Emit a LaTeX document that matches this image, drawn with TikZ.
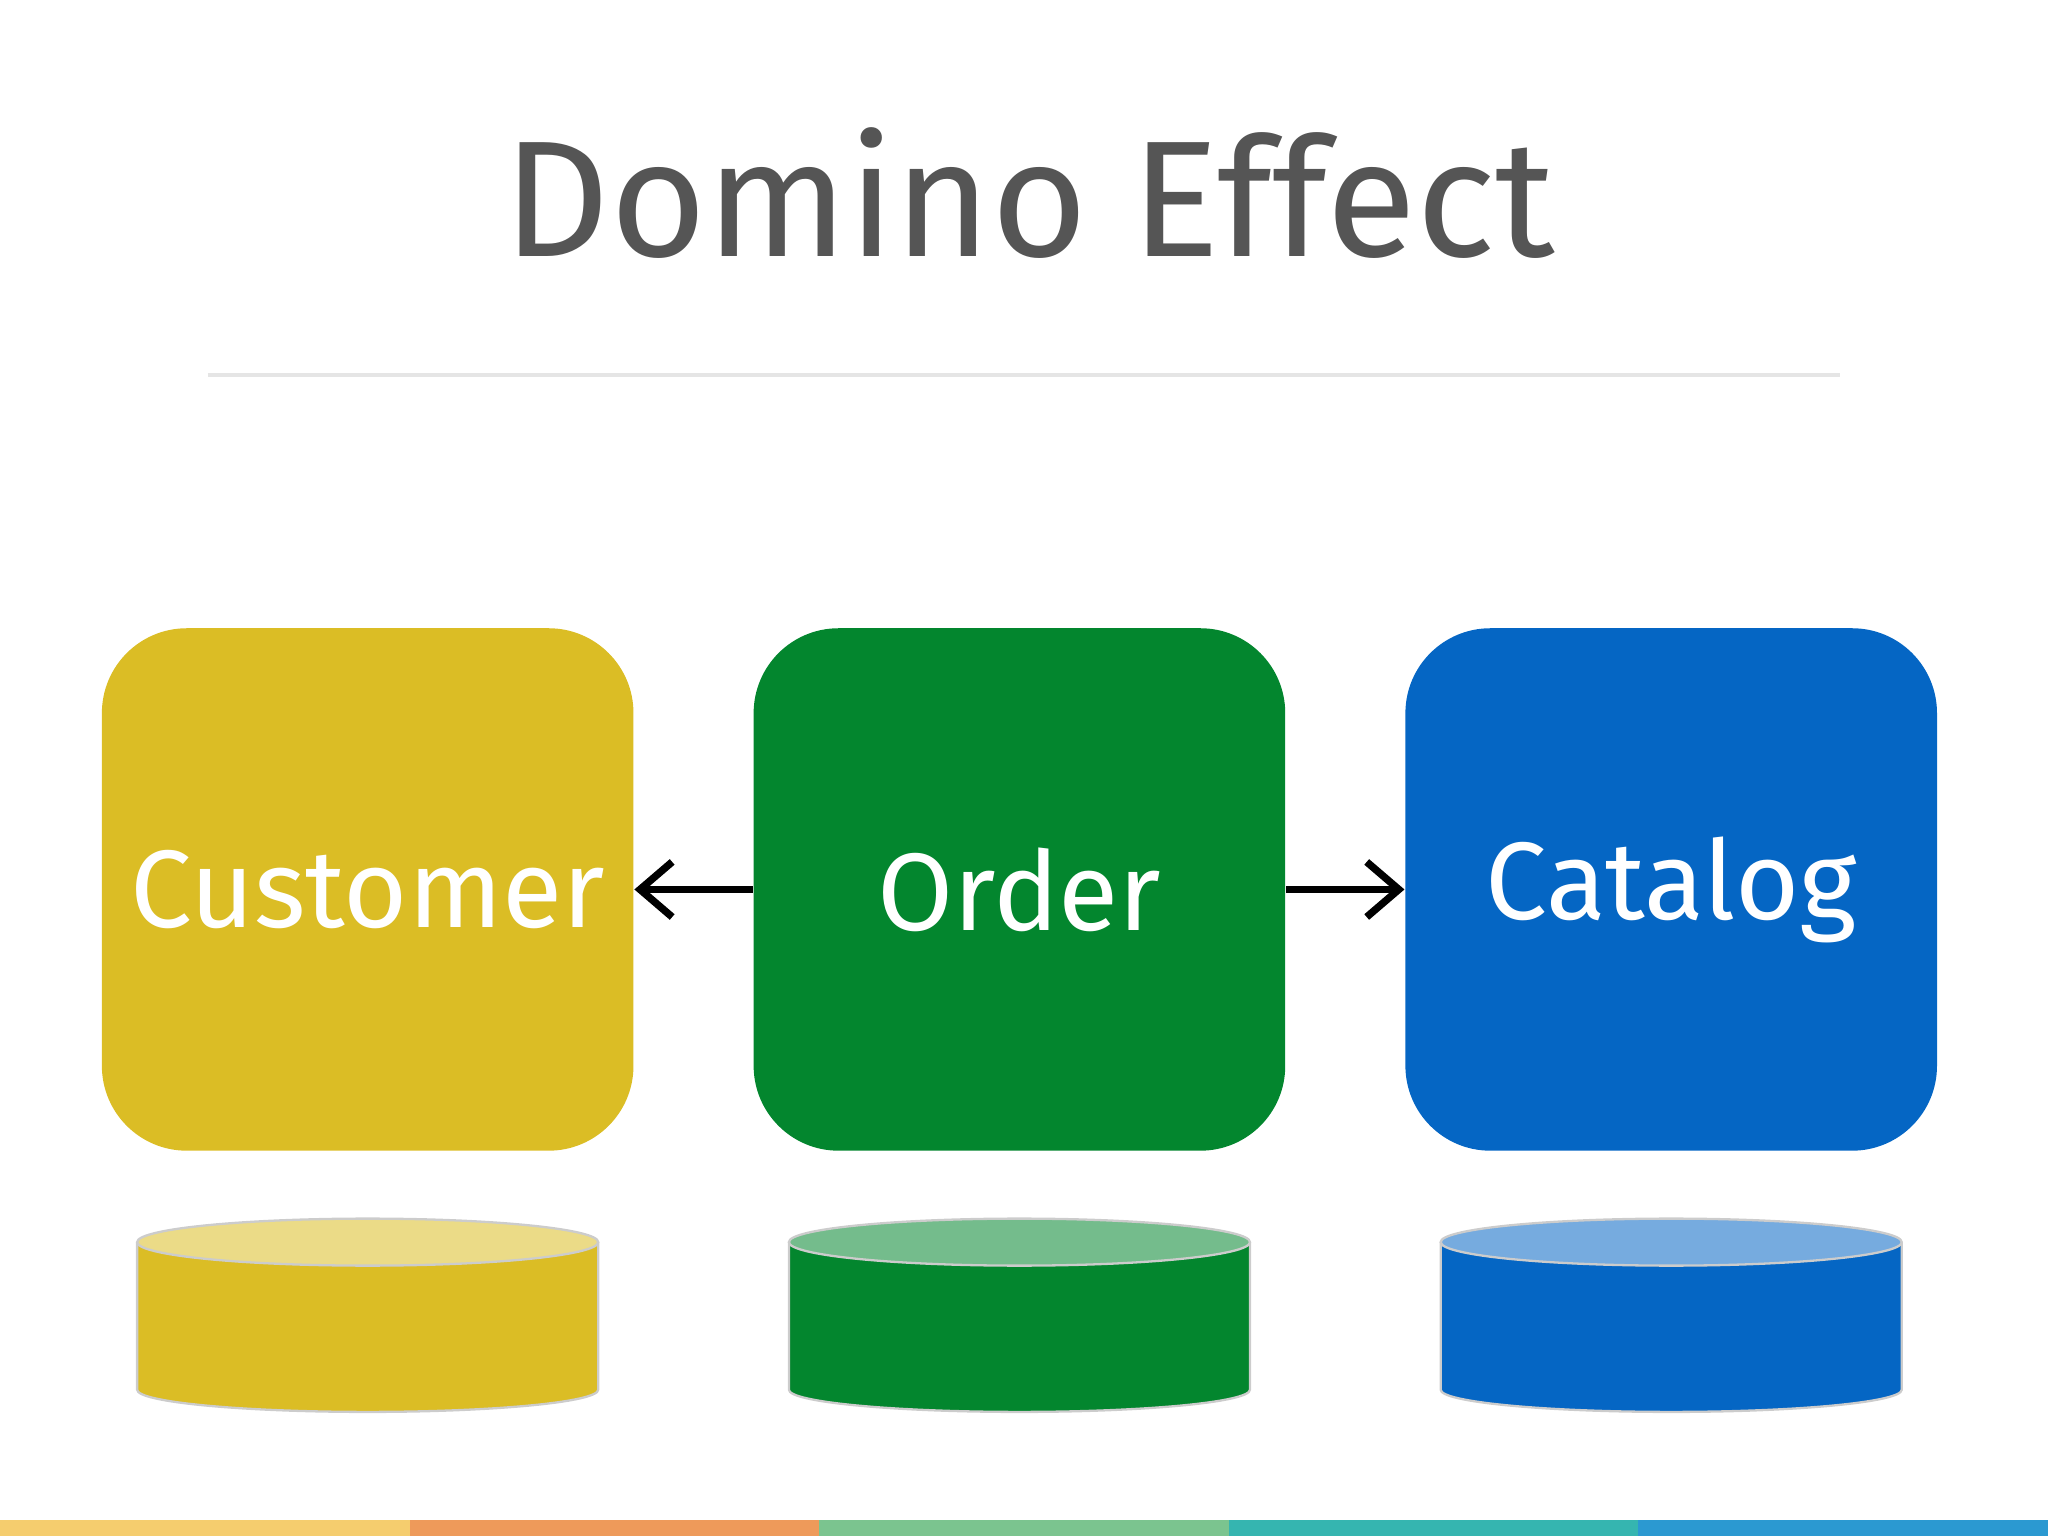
\documentclass[tikz,border=0pt]{standalone}
\usepackage{fontspec}
\setmainfont{Fira Sans}
\usetikzlibrary{arrows.meta}
\definecolor{cy}{HTML}{DBBD25}
\definecolor{cg}{HTML}{03862E}
\definecolor{cb}{HTML}{0566C4}
\definecolor{ttl}{HTML}{555555}
\definecolor{s1}{HTML}{F5CD6E}\definecolor{s2}{HTML}{EE9A5A}\definecolor{s3}{HTML}{7BC48F}\definecolor{s4}{HTML}{35B5B0}\definecolor{s5}{HTML}{2B99D1}
\tikzset{
  svc/.style={fill=#1, draw=none, rounded corners=0.65cm, minimum width=4.07cm, minimum height=4.0cm, text=white, font=\fontsize{24}{28}\selectfont, inner sep=0pt},
  conn/.style={line width=1.6pt, -{Straight Barb[length=7pt,width=12pt,line width=1.6pt]}},
}
\newcommand{\dbcyl}[2]{% center x, colour
  \fill[#2] (#1-1.765,-9.51) -- (#1-1.765,-10.64) arc[start angle=180,end angle=360,x radius=1.765,y radius=0.17] -- (#1+1.765,-9.51) -- cycle;
  \draw[gray!40, line width=0.5pt] (#1-1.765,-9.51) -- (#1-1.765,-10.64) arc[start angle=180,end angle=360,x radius=1.765,y radius=0.17] -- (#1+1.765,-9.51);
  \fill[#2!55!white, draw=gray!40, line width=0.5pt] (#1,-9.51) ellipse[x radius=1.765, y radius=0.18];
}
\begin{document}
\begin{tikzpicture}[x=1cm,y=1cm]
\useasboundingbox (0,0) rectangle (15.68,-11.76);
\node[text=ttl, font=\fontsize{36}{40}\selectfont\addfontfeatures{Weight=Light}] (title) at (7.88,-1.48) {Domino Effect};
\draw[gray!20, line width=1pt] (1.59,-2.87) -- (14.09,-2.87);
\node[svc=cy] (cust) at (2.815,-6.81) {Customer};
\node[svc=cg] (ord) at (7.805,-6.81) {Order};
\node[svc=cb] (cat) at (12.795,-6.81) {Catalog};
\draw[conn] (ord.west) -- (cust.east);
\draw[conn] (ord.east) -- (cat.west);
\dbcyl{2.815}{cy}
\dbcyl{7.805}{cg}
\dbcyl{12.795}{cb}
\fill[s1] (0,-11.64) rectangle (3.136,-11.76);
\fill[s2] (3.136,-11.64) rectangle (6.272,-11.76);
\fill[s3] (6.272,-11.64) rectangle (9.408,-11.76);
\fill[s4] (9.408,-11.64) rectangle (12.544,-11.76);
\fill[s5] (12.544,-11.64) rectangle (15.68,-11.76);
\end{tikzpicture}
\end{document}
